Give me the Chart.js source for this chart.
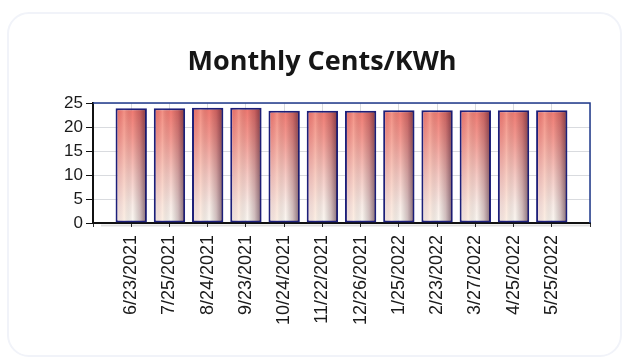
<!DOCTYPE html>
<html>
<head>
<meta charset="utf-8">
<title>Monthly Cents/KWh</title>
<script src="https://cdn.jsdelivr.net/npm/chart.js@4/dist/chart.umd.min.js"></script>
<style>
  html, body { margin: 0; padding: 0; background: #ffffff; }
  #wrap { position: relative; width: 629px; height: 360px; overflow: hidden; }
  #panel {
    position: absolute; left: 7px; top: 12px; width: 615px; height: 345px;
    border: 2px solid #f1f3f9; border-radius: 22px; box-sizing: border-box;
  }
  #chart { position: absolute; left: 0; top: 0; }
</style>
</head>
<body>
<div id="wrap">
  <div id="panel"></div>
  <canvas id="chart" width="629" height="360"></canvas>
</div>
<script>
// Billing period read dates
const readDates = [
  '6/23/2021', '7/25/2021', '8/24/2021', '9/23/2021', '10/24/2021', '11/22/2021',
  '12/26/2021', '1/25/2022', '2/23/2022', '3/27/2022', '4/25/2022', '5/25/2022'
];
// Cost per kilowatt-hour, in cents
const centsPerKwh = [23.9, 23.9, 24.0, 24.0, 23.4, 23.4, 23.4, 23.5, 23.5, 23.5, 23.5, 23.5];
// Value axis ticks
const yTicks = [0, 5, 10, 15, 20, 25];

// Red-to-white fill running down each bar
function barFill(context) {
  const chart = context.chart;
  const area = chart.chartArea;
  if (!area) return '#ee8a80';
  const g = chart.ctx.createLinearGradient(0, area.top, 0, area.bottom);
  g.addColorStop(0.00, '#ef726a');
  g.addColorStop(0.30, '#f39b93');
  g.addColorStop(0.60, '#f6cac4');
  g.addColorStop(0.85, '#f9ece7');
  g.addColorStop(1.00, '#fbf8f2');
  return g;
}

// Side shading that gives the bars a rounded, lit look
const barShading = {
  id: 'barShading',
  afterDatasetDraw(chart, args) {
    const meta = args.meta;
    const c = chart.ctx;
    c.save();
    meta.data.forEach(bar => {
      const p = bar.getProps(['x', 'y', 'base', 'width'], true);
      const inset = 1.5;
      const x0 = p.x - p.width / 2 + inset;
      const x1 = p.x + p.width / 2 - inset;
      const top = Math.min(p.y, p.base) + inset;
      const bottom = Math.max(p.y, p.base) - inset;
      const g = c.createLinearGradient(x0, 0, x1, 0);
      g.addColorStop(0.00, 'rgba(120, 20, 30, 0.08)');
      g.addColorStop(0.25, 'rgba(255, 215, 190, 0.25)');
      g.addColorStop(0.55, 'rgba(0, 0, 0, 0.00)');
      g.addColorStop(0.80, 'rgba(60, 0, 20, 0.22)');
      g.addColorStop(1.00, 'rgba(40, 0, 25, 0.50)');
      c.fillStyle = g;
      c.fillRect(x0, top, x1 - x0, bottom - top);
    });
    c.restore();
  }
};

// Frame on the top and right of the plot, plus a soft shadow under the base line
const plotFrame = {
  id: 'plotFrame',
  afterDraw(chart) {
    const a = chart.chartArea;
    const c = chart.ctx;
    c.save();
    c.strokeStyle = 'rgba(0, 0, 0, 0.12)';
    c.lineWidth = 2;
    c.beginPath();
    c.moveTo(a.left + 8, a.bottom + 2.5);
    c.lineTo(a.right, a.bottom + 2.5);
    c.stroke();
    c.strokeStyle = '#1f3a8c';
    c.lineWidth = 1.5;
    c.beginPath();
    c.moveTo(a.left, a.top);
    c.lineTo(a.right, a.top);
    c.lineTo(a.right, a.bottom);
    c.stroke();
    c.restore();
  }
};

new Chart(document.getElementById('chart'), {
  type: 'bar',
  data: {
    datasets: [{
      label: 'Cents/KWh',
      data: centsPerKwh.map((v, i) => ({ x: i, y: v })),
      backgroundColor: barFill,
      borderColor: '#1c1f7a',
      borderWidth: 2,
      borderSkipped: false,
      barPercentage: 0.82,
      categoryPercentage: 1.0
    }]
  },
  options: {
    responsive: false,
    animation: false,
    events: [],
    layout: { padding: { left: 54, right: 39, top: 0, bottom: 0 } },
    plugins: {
      legend: { display: false },
      tooltip: { enabled: false },
      title: {
        display: true,
        text: 'Monthly Cents/KWh',
        color: '#161616',
        font: { family: '"Open Sans", "DejaVu Sans", sans-serif', size: 27, weight: 'bold', lineHeight: 1.2 },
        padding: { top: 46, bottom: 24.6 }
      }
    },
    scales: {
      x: {
        type: 'linear',
        offset: false,
        min: -1,
        max: readDates.length,
        afterFit(scale) { scale.height = 137; },
        afterBuildTicks(scale) {
          const t = [];
          for (let i = -1; i <= readDates.length; i++) t.push({ value: i });
          scale.ticks = t;
        },
        ticks: {
          autoSkip: false,
          minRotation: 90,
          maxRotation: 90,
          padding: 8,
          color: '#1a1a1a',
          font: { family: '"Liberation Sans", Arial, sans-serif', size: 18 },
          callback: v => readDates[v] ?? ''
        },
        grid: { offset: false, color: 'rgba(170, 175, 185, 0.45)', lineWidth: 1, tickLength: 4, tickColor: '#333' },
        border: { display: true, color: '#111', width: 2 }
      },
      y: {
        min: 0,
        max: 25,
        afterFit(scale) { scale.width = 39; },
        afterBuildTicks(scale) { scale.ticks = yTicks.map(v => ({ value: v })); },
        ticks: {
          padding: 3,
          color: '#1a1a1a',
          font: { family: '"Liberation Sans", Arial, sans-serif', size: 17 }
        },
        grid: { color: 'rgba(170, 175, 185, 0.45)', lineWidth: 1, tickLength: 7, tickColor: '#111' },
        border: { display: true, color: '#111', width: 2 }
      }
    }
  },
  plugins: [barShading, plotFrame]
});
</script>
</body>
</html>
